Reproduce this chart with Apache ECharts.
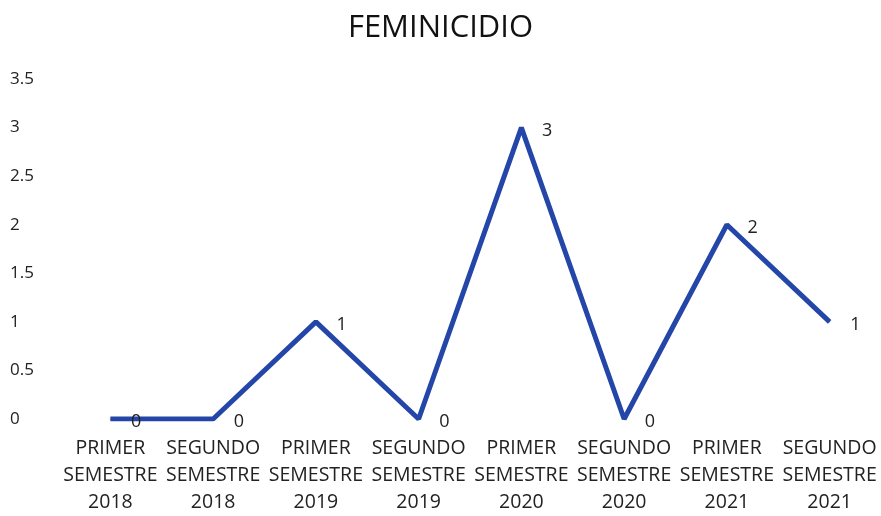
<!DOCTYPE html>
<html>
<head>
<meta charset="utf-8">
<script src="https://cdn.jsdelivr.net/npm/echarts@6/dist/echarts.min.js"></script>
<style>
  html, body { margin: 0; padding: 0; background: #fff; }
  #chart { width: 881px; height: 516px; }
</style>
</head>
<body>
<div id="chart"></div>
<script>
// categorias (semestres)
var categories = [
  'PRIMER\nSEMESTRE\n2018', 'SEGUNDO\nSEMESTRE\n2018',
  'PRIMER\nSEMESTRE\n2019', 'SEGUNDO\nSEMESTRE\n2019',
  'PRIMER\nSEMESTRE\n2020', 'SEGUNDO\nSEMESTRE\n2020',
  'PRIMER\nSEMESTRE\n2021', 'SEGUNDO\nSEMESTRE\n2021'
];
// casos de feminicidio
var values = [0, 0, 1, 0, 3, 0, 2, 1];

var chart = echarts.init(document.getElementById('chart'));

chart.setOption({
  animation: false,
  textStyle: { fontFamily: 'Open Sans' },
  title: {
    text: 'FEMINICIDIO',
    left: 'center',
    top: 8,
    textStyle: { fontSize: 31, fontWeight: 'normal', color: '#111', fontFamily: 'Open Sans' }
  },
  grid: { left: 59, right: 0, top: 79, bottom: 96 },
  xAxis: {
    type: 'category',
    data: categories,
    axisLine: { show: false },
    axisTick: { show: false },
    axisLabel: {
      interval: 0,
      margin: 16,
      fontSize: 19.5,
      lineHeight: 27,
      color: '#222'
    }
  },
  yAxis: {
    type: 'value',
    min: 0,
    max: 3.5,
    interval: 0.5,
    splitLine: { show: false },
    axisLine: { show: false },
    axisLabel: {
      align: 'left',
      margin: 49,
      fontSize: 17,
      color: '#222'
    }
  },
  series: [{
    type: 'line',
    data: values,
    symbol: 'circle',
    symbolSize: 1,
    itemStyle: { color: '#2446A8' },
    lineStyle: { color: '#2446A8', width: 5 },
    label: {
      show: true,
      position: 'right',
      distance: 20,
      offset: [0, 3],
      fontSize: 18,
      color: '#222'
    }
  }]
});
</script>
</body>
</html>
